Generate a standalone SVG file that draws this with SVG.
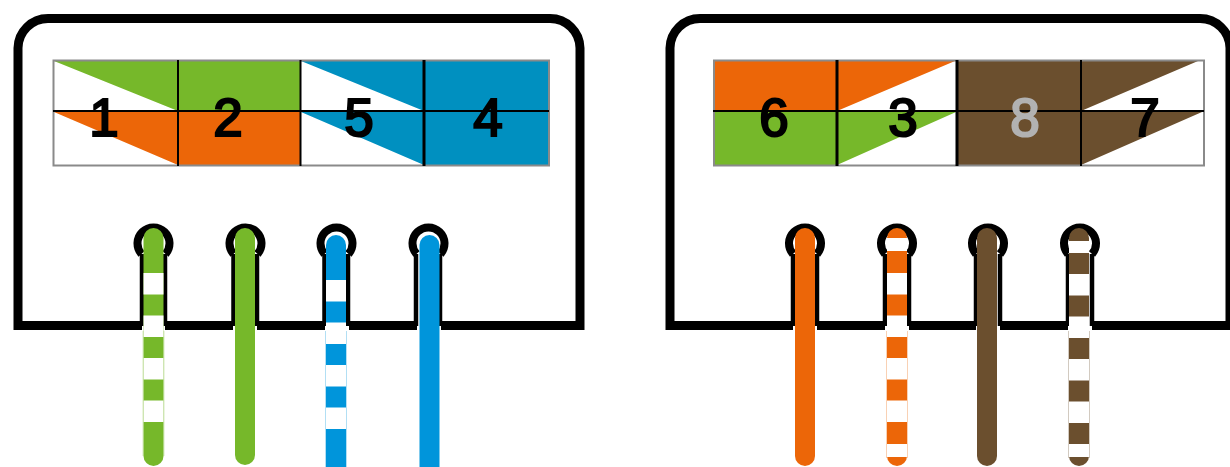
<svg xmlns="http://www.w3.org/2000/svg" width="1230" height="467" viewBox="0 0 1230 467">
<style>
.frame{fill:none;stroke:#000;stroke-width:9}
.stem{fill:none;stroke:#000;stroke-width:4.500}
.ring{fill:none;stroke:#000;stroke-width:8}
.grid{stroke:#000;stroke-width:2;fill:none}
.edge{fill:none;stroke:#8a8a8a;stroke-width:2}
.num{font-family:"Liberation Sans",Arial,sans-serif;font-size:53px;font-weight:400;text-anchor:middle;fill:#000;stroke:#000;stroke-width:2.200}
.wire{fill:none;stroke-width:20;stroke-linecap:round}
.band{fill:none;stroke:#fff;stroke-width:20;stroke-dasharray:21.5 21}
.rim{fill:none;stroke-width:1;stroke-opacity:.3}
.g{fill:#76b82a}.o{fill:#ec6608}.b{fill:#0090c0}.br{fill:#6b4f2e}
.wg{stroke:#76b82a}.wo{stroke:#ec6608}.wb{stroke:#0095db}.wbr{stroke:#6b4f2e}
</style>
<g id="jack-left">
<path class="frame" d="M142 325.5H18V48A30 30 0 0 1 48 18.500H550A30 30 0 0 1 580 48V325.500H441M417 325.500H349M325 325.500H257M233 325.500H165"/>
<path class="stem" d="M142 326V254M165 326V254M233.500 326V254M257 326V254M324.500 326V254M348 326V254M416 326V254M440 326V254"/>
<path class="ring" d="M141.500 254A16 16 0 1 1 165.500 254M233.500 254A16 16 0 1 1 257.500 254M324.500 254A16 16 0 1 1 348.500 254M416.500 254A16 16 0 1 1 440.500 254"/>
<g id="table-left">
<path class="g" d="M54 61L178 111V61ZM178 61H301V111H178Z"/>
<path class="o" d="M54 112L178 165V112ZM178 112H301V165H178Z"/>
<path class="b" d="M301 61L424 111V61ZM424 61H549V165H424ZM301 112L424 165V112Z"/>
<rect class="edge" x="53.500" y="60.500" width="495.500" height="105"/>
<path class="grid" d="M53 111H549M178 60V166M300.500 60V166"/>
<path class="grid" style="stroke-width:3" d="M424 60V166"/>
<text class="num" x="104" y="136">1</text>
<text class="num" x="228" y="136">2</text>
<text class="num" x="359" y="136">5</text>
<text class="num" x="488" y="136">4</text>
</g>
</g>
<g id="jack-right">
<path class="frame" d="M793 325.500H670V48A30 30 0 0 1 700 18.500H1200A30 30 0 0 1 1230 48V325.500H1092M1068 325.500H1000M976 325.500H909M885 325.500H817"/>
<path class="stem" d="M793 326V254M817 326V254M885 326V254M909 326V254M976 326V254M1000 326V254M1068 326V254M1092 326V254"/>
<path class="ring" d="M793 254A16 16 0 1 1 817 254M885 254A16 16 0 1 1 909 254M976 254A16 16 0 1 1 1000 254M1068 254A16 16 0 1 1 1092 254"/>
<g id="table-right">
<path class="o" d="M714 61H837V111H714ZM837 61H955L837 111Z"/>
<path class="g" d="M714 112H837V165H714ZM837 112H956L837 165Z"/>
<path class="br" d="M957 61H1081V165H957ZM1081 61H1198L1081 111ZM1081 112H1202L1081 165Z"/>
<rect class="edge" x="714" y="60.500" width="490" height="105"/>
<path class="grid" d="M713 111H1204M1081 60V166"/>
<path class="grid" style="stroke-width:3" d="M837 60V166M957 60V166"/>
<text class="num" x="774" y="136">6</text>
<text class="num" x="903" y="136">3</text>
<text class="num" x="1025" y="136" style="fill:#b2b2b2;stroke:#b2b2b2">8</text>
<text class="num" x="1145" y="136">7</text>
</g>
</g>
<g id="connectors">
<path class="wire wg" d="M153.500 238V456"/>
<path class="band" d="M153.500 273V423"/>
<path class="rim wg" d="M143 331V456M164 331V456"/>
<path class="wire wg" d="M245 238V455"/>
<path class="wire wb" d="M336 245V490"/>
<path class="band" d="M336 280V430"/>
<path class="rim wb" d="M325.500 331V467M346.500 331V467"/>
<path class="wire wb" d="M429.500 245V490"/>
<path class="wire wo" d="M805 238V456"/>
<path class="wire wo" d="M897 238V456"/>
<path class="band" d="M897 273V423"/>
<path class="band" style="stroke-dasharray:none" d="M897 238V251M897 444V457"/>
<path class="rim wo" d="M886.500 331V458M907.500 331V458"/>
<path class="wire wbr" d="M987 238V456"/>
<path class="wire wbr" d="M1079 238V456"/>
<path class="band" d="M1079 274V424"/>
<path class="band" style="stroke-dasharray:none" d="M1079 241V253M1079 444V457"/>
<path class="rim wbr" d="M1068.500 331V458M1089.500 331V458"/>
</g>
</svg>
